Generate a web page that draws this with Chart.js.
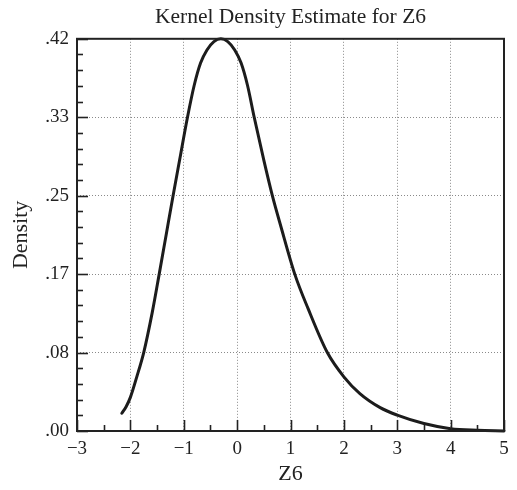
<!DOCTYPE html>
<html>
<head>
<meta charset="utf-8">
<script src="https://cdn.jsdelivr.net/npm/chart.js@4.4.1/dist/chart.umd.min.js"></script>
<style>
  html, body { margin: 0; padding: 0; background: #fff; }
  #wrap { width: 517px; height: 490px; }
</style>
</head>
<body>
<div id="wrap"><canvas id="kde"></canvas></div>
<script>
// Kernel density curve
const zValues = [-2.16, -2.08, -2.0, -1.88, -1.75, -1.59, -1.46, -1.33, -1.20, -1.075, -0.93,
  -0.805, -0.685, -0.565, -0.435, -0.305, -0.175, -0.045, 0.075, 0.195, 0.32, 0.50, 0.66,
  0.82, 1.08, 1.33, 1.69, 2.0, 2.3, 2.68, 3.0, 3.5, 4.0, 4.5, 5.0];
const density = [0.019, 0.026, 0.036, 0.058, 0.084, 0.127, 0.168, 0.210, 0.252, 0.291, 0.336,
  0.370, 0.394, 0.408, 0.417, 0.420, 0.417, 0.408, 0.394, 0.370, 0.336, 0.290, 0.252,
  0.219, 0.168, 0.131, 0.084, 0.058, 0.040, 0.025, 0.017, 0.008, 0.0025, 0.0008, 0.0001];

const xTickLabels = ['\u22123', '\u22122', '\u22121', '0', '1', '2', '3', '4', '5'];
const yTickValues = [0, 0.084, 0.168, 0.252, 0.336, 0.42];
const yTickLabels = ['.00', '.08', '.17', '.25', '.33', '.42'];

const xMinorStep = 0.5;
const yMinorStep = 0.0168;

const serif = '"Liberation Serif", "Times New Roman", serif';

// frame around the plot plus inward tick marks
const framePlugin = {
  id: 'frame',
  afterLayout(c) {
    // centre the title over the plot area, not the whole canvas
    const t = c.titleBlock;
    if (t) {
      t.left = c.chartArea.left;
      t.right = c.chartArea.right;
      t.width = t.right - t.left;
    }
  },
  afterDatasetsDraw(c) {
    const { ctx, chartArea: a, scales } = c;
    const xs = scales.x, ys = scales.y;
    ctx.save();
    ctx.strokeStyle = '#222';
    ctx.lineWidth = 1.6;
    for (let v = xs.min; v <= xs.max + 1e-9; v += xMinorStep) {
      const px = Math.round(xs.getPixelForValue(v)) + 0.5;
      const major = Math.abs(v - Math.round(v)) < 1e-6;
      ctx.beginPath();
      ctx.moveTo(px, a.bottom);
      ctx.lineTo(px, a.bottom - (major ? 11 : 6));
      ctx.stroke();
    }
    for (let i = 0; i * yMinorStep <= ys.max + 1e-9; i++) {
      const py = Math.round(ys.getPixelForValue(i * yMinorStep)) + 0.5;
      ctx.beginPath();
      ctx.moveTo(a.left, py);
      ctx.lineTo(a.left + (i % 5 === 0 ? 11 : 6), py);
      ctx.stroke();
    }
    ctx.lineWidth = 2;
    ctx.strokeRect(a.left, a.top, a.right - a.left, a.bottom - a.top);
    ctx.restore();
  }
};

new Chart(document.getElementById('kde'), {
  type: 'line',
  data: {
    datasets: [{
      data: zValues.map((z, i) => ({ x: z, y: density[i] })),
      borderColor: '#1c1c1c',
      borderWidth: 3,
      borderCapStyle: 'round',
      pointRadius: 0,
      cubicInterpolationMode: 'monotone',
      fill: false,
      clip: 4
    }]
  },
  options: {
    responsive: true,
    maintainAspectRatio: false,
    animation: false,
    layout: { padding: { left: 0, right: 13, top: 0, bottom: 0 } },
    plugins: {
      legend: { display: false },
      tooltip: { enabled: false },
      title: {
        display: true,
        text: 'Kernel Density Estimate for Z6',
        color: '#222',
        font: { family: serif, size: 21.5, weight: 'normal' },
        padding: { top: 4, bottom: 9 }
      }
    },
    scales: {
      x: {
        type: 'linear',
        min: -3,
        max: 5,
        afterFit: s => { s.height = 59; },
        ticks: {
          stepSize: 1,
          autoSkip: false,
          maxRotation: 0,
          padding: 7,
          color: '#222',
          font: { family: serif, size: 19 },
          callback: (v, i) => xTickLabels[i]
        },
        grid: { color: '#8a8a8a', lineWidth: 1, drawTicks: false },
        border: { display: false, dash: [1, 2] },
        title: {
          display: true,
          text: 'Z6',
          color: '#222',
          font: { family: serif, size: 22 },
          padding: { top: 0, bottom: 3 }
        }
      },
      y: {
        min: 0,
        max: 0.42,
        afterBuildTicks: s => { s.ticks = yTickValues.map(v => ({ value: v })); },
        afterFit: s => { s.width = 77; },
        ticks: {
          padding: 8,
          color: '#222',
          font: { family: serif, size: 19 },
          callback: (v, i) => yTickLabels[i]
        },
        grid: { color: '#8a8a8a', lineWidth: 1, drawTicks: false },
        border: { display: false, dash: [1, 2] },
        title: {
          display: true,
          text: 'Density',
          color: '#222',
          font: { family: serif, size: 22 },
          padding: { top: 8, bottom: 0 }
        }
      }
    }
  },
  plugins: [framePlugin]
});
</script>
</body>
</html>
